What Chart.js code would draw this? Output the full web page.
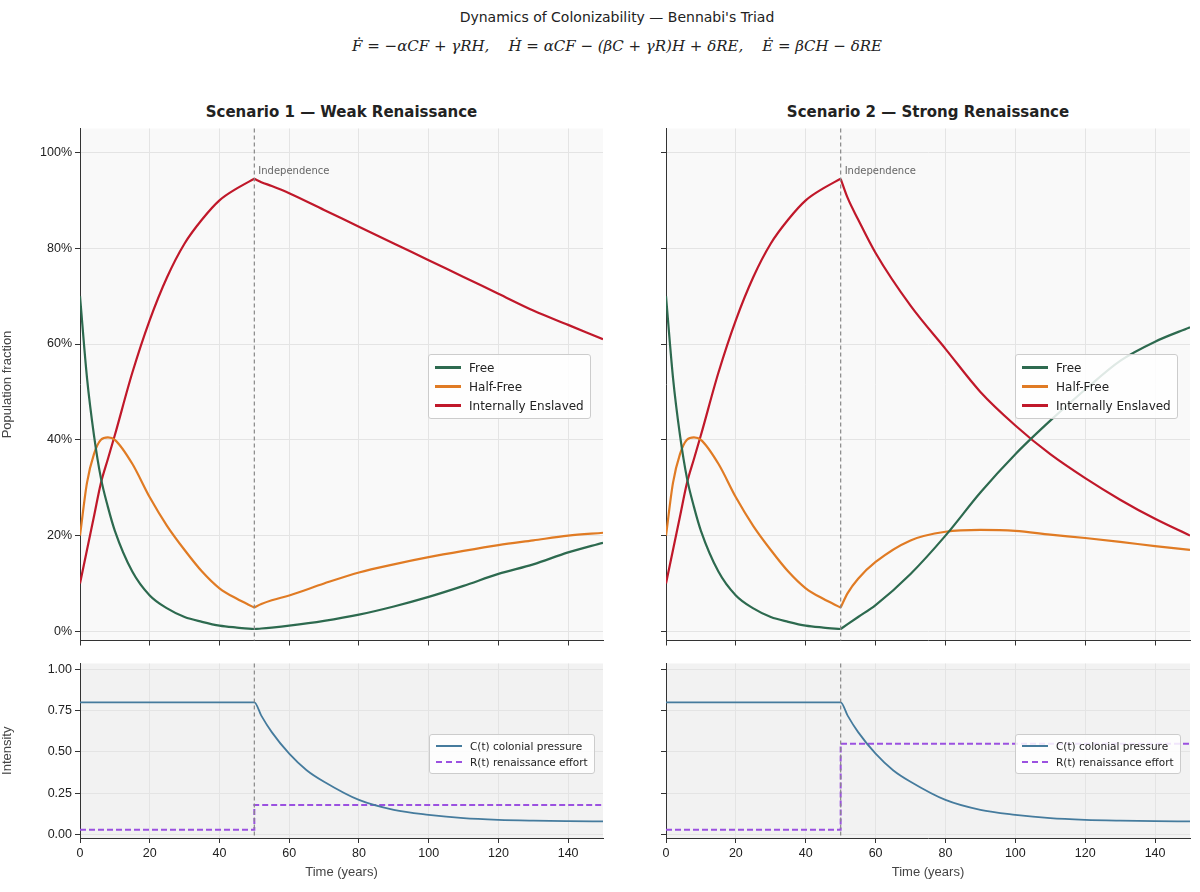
<!DOCTYPE html>
<html>
<head>
<meta charset="utf-8">
<script src="https://cdn.jsdelivr.net/npm/chart.js@4"></script>
<style>
  body { margin: 0; width: 1200px; height: 892px; background: #fff; font-family: "DejaVu Sans", sans-serif; position: relative; overflow: hidden; }
  .box { position: absolute; }
  .txt { position: absolute; white-space: nowrap; color: #222; }
  .legend { position: absolute; background: rgba(255,255,255,0.85); border: 1px solid #ccc; border-radius: 3px; padding: 3px 6px; font-size: 12px; color: #222; }
  .legend div { display: flex; align-items: center; height: 19px; }
  .legend.small { font-size: 10.5px; }
  .legend.small div { height: 16px; }
  .sw { width: 26px; margin-right: 8px; border-top-width: 3px; }
  .math { font-family: "DejaVu Serif", serif; font-style: italic; }
</style>
</head>
<body>
<div class="txt" style="left:0;width:1234px;text-align:center;top:9px;font-size:14px;">Dynamics of Colonizability — Bennabi's Triad</div>
<div class="txt math" style="left:0;width:1234px;text-align:center;top:37px;font-size:15px;">F&#775; = −αCF + γRH, &nbsp;&nbsp; H&#775; = αCF − (βC + γR)H + δRE, &nbsp;&nbsp; E&#775; = βCH − δRE</div>
<div class="txt" style="left:80px;width:523px;text-align:center;top:103px;font-size:15px;font-weight:bold;">Scenario 1 — Weak Renaissance</div>
<div class="txt" style="left:666px;width:524px;text-align:center;top:103px;font-size:15px;font-weight:bold;">Scenario 2 — Strong Renaissance</div>

<div class="box" style="left:0;top:118px;width:610px;height:533px;"><canvas id="top1"></canvas></div>
<div class="box" style="left:610px;top:118px;width:590px;height:533px;"><canvas id="top2"></canvas></div>
<div class="box" style="left:0;top:653px;width:610px;height:239px;"><canvas id="bot1"></canvas></div>
<div class="box" style="left:610px;top:653px;width:590px;height:239px;"><canvas id="bot2"></canvas></div>

<div class="legend" style="left:428px;top:354px;">
  <div><span class="sw" style="border-top:3px solid #2d6a4f"></span>Free</div>
  <div><span class="sw" style="border-top:3px solid #e07b24"></span>Half-Free</div>
  <div><span class="sw" style="border-top:3px solid #c0182a"></span>Internally Enslaved</div>
</div>
<div class="legend" style="left:1015px;top:354px;">
  <div><span class="sw" style="border-top:3px solid #2d6a4f"></span>Free</div>
  <div><span class="sw" style="border-top:3px solid #e07b24"></span>Half-Free</div>
  <div><span class="sw" style="border-top:3px solid #c0182a"></span>Internally Enslaved</div>
</div>
<div class="legend small" style="left:429px;top:734px;">
  <div><span class="sw" style="border-top:2px solid #457b9d"></span>C(t) colonial pressure</div>
  <div><span class="sw" style="border-top:2px dashed #9b51e0"></span>R(t) renaissance effort</div>
</div>
<div class="legend small" style="left:1015px;top:734px;">
  <div><span class="sw" style="border-top:2px solid #457b9d"></span>C(t) colonial pressure</div>
  <div><span class="sw" style="border-top:2px dashed #9b51e0"></span>R(t) renaissance effort</div>
</div>

<script>
// ===== DATA =====
const tPre = [0, 2, 4, 6, 8, 10, 15, 20, 25, 30, 35, 40, 45, 50];
const freePre = [70, 53, 41, 32, 26, 21, 12.5, 7.5, 4.8, 3, 2, 1.2, 0.8, 0.5];
const halfPre = [20, 31, 37, 40, 40.5, 40, 35, 28, 22, 17, 12.5, 9, 6.8, 5];
const enslPre = [10, 17, 24, 31, 36, 41, 54, 65, 74, 81, 86, 90, 92.5, 94.5];

const tPost = [50, 52, 55, 60, 70, 80, 90, 100, 110, 120, 130, 140, 150];
const free1 = [0.5, 0.6, 0.8, 1.2, 2.2, 3.5, 5.2, 7.2, 9.5, 12, 14, 16.5, 18.5];
const half1 = [5, 5.7, 6.5, 7.5, 10, 12.3, 14, 15.5, 16.8, 18, 19, 20, 20.6];
const ensl1 = [94.5, 93.8, 93, 91.5, 88, 84.5, 81, 77.5, 74, 70.5, 67, 64, 61];
const free2 = [0.5, 1.5, 3, 5.5, 12, 20, 29, 37, 44, 50.5, 56.5, 60.5, 63.5];
const half2 = [5, 8, 11, 14.5, 19, 20.8, 21.2, 21, 20.2, 19.5, 18.7, 17.8, 17];
const ensl2 = [94.5, 90.5, 86, 79, 68, 59, 50, 43, 37, 32, 27.5, 23.5, 20];

const tC = [0, 50, 52, 55, 60, 65, 70, 80, 90, 100, 110, 120, 130, 140, 150];
const pressure = [0.8, 0.8, 0.72, 0.62, 0.49, 0.39, 0.32, 0.21, 0.15, 0.12, 0.10, 0.09, 0.085, 0.082, 0.08];
const tR = [0, 50, 50, 150];
const effort1 = [0.03, 0.03, 0.18, 0.18];
const effort2 = [0.03, 0.03, 0.55, 0.55];

const xTicks = [0, 20, 40, 60, 80, 100, 120, 140];
const popTicks = [0, 20, 40, 60, 80, 100];
const intTicks = [0, 0.25, 0.5, 0.75, 1.0];

const GREEN = '#2d6a4f', ORANGE = '#e07b24', RED = '#c0182a', BLUE = '#457b9d', PURPLE = '#9b51e0';

function pts(xs, ys) { return xs.map((x, i) => ({ x: x, y: ys[i] })); }
function line(xs, ys, color, extra) {
    return Object.assign({ data: pts(xs, ys), borderColor: color, borderWidth: 2.2, pointRadius: 0, cubicInterpolationMode: 'monotone', fill: false }, extra || {});
}

// ===== PLUGINS =====
const bgPlugin = {
    id: 'bg',
    beforeDraw(chart, args, opts) {
        const a = chart.chartArea, c = chart.ctx;
        c.save(); c.fillStyle = opts.color; c.fillRect(a.left, a.top, a.right - a.left, a.bottom - a.top); c.restore();
    }
};
const indPlugin = {
    id: 'ind',
    afterDatasetsDraw(chart, args, opts) {
        const a = chart.chartArea, c = chart.ctx, x = chart.scales.x.getPixelForValue(50);
        c.save();
        c.strokeStyle = '#888'; c.lineWidth = 1.2; c.setLineDash([4, 3]);
        c.beginPath(); c.moveTo(x, a.top); c.lineTo(x, a.bottom); c.stroke();
        if (opts.label) {
            c.fillStyle = '#666'; c.font = '10px "DejaVu Sans"'; c.textBaseline = 'top';
            c.fillText('Independence', x + 4, a.top + 38);
        }
        c.restore();
    }
};

function makeChart(id, datasets, o) {
    new Chart(document.getElementById(id), {
        type: 'line',
        data: { datasets: datasets },
        plugins: [bgPlugin, indPlugin],
        options: {
            responsive: true, maintainAspectRatio: false, animation: false,
            layout: { padding: { top: 4, right: o.right, bottom: o.bottom, left: 0 } },
            plugins: { legend: { display: false }, tooltip: { enabled: false }, bg: { color: o.bg }, ind: { label: o.label } },
            scales: {
                x: {
                    type: 'linear', min: 0, max: 150,
                    afterBuildTicks: s => { s.ticks = xTicks.map(v => ({ value: v })); },
                    afterFit: s => { s.height = o.xh; },
                    grid: { color: '#e4e4e4', tickLength: 5, tickColor: '#333' },
                    border: { color: '#333' },
                    ticks: { display: o.xlabels, color: '#222', font: { size: 12.5 } },
                    title: { display: o.xlabels, text: 'Time (years)', color: '#444', font: { size: 13 }, padding: 0 }
                },
                y: {
                    min: o.ymin, max: o.ymax,
                    afterBuildTicks: s => { s.ticks = o.yticks.map(v => ({ value: v })); },
                    afterFit: s => { s.width = o.yw; },
                    grid: { color: '#e4e4e4', tickLength: 5, tickColor: '#333' },
                    border: { color: '#333' },
                    ticks: { color: '#222', font: { size: 12.5 }, callback: o.ylabels ? o.fmt : () => '' },
                    title: { display: !!o.ytitle, text: o.ytitle, color: '#444', font: { size: 13 }, padding: { top: 0, bottom: 0 } }
                }
            }
        }
    });
}

function popSets(f, h, e) {
    return [
        line(tPre, freePre, GREEN), line(tPost, f, GREEN),
        line(tPre, halfPre, ORANGE), line(tPost, h, ORANGE),
        line(tPre, enslPre, RED), line(tPost, e, RED)
    ];
}
function intSets(r) {
    return [
        line(tC, pressure, BLUE, { borderWidth: 1.8 }),
        line(tR, r, PURPLE, { borderWidth: 2, cubicInterpolationMode: 'default', tension: 0, borderDash: [6, 3] })
    ];
}

const pct = v => v + '%';
const dec = v => v.toFixed(2);

makeChart('top1', popSets(free1, half1, ensl1), { right: 7, bottom: 0, xh: 10, xlabels: false, ymin: -1.9, ymax: 105, yticks: popTicks, yw: 80, ylabels: true, fmt: pct, ytitle: 'Population fraction', bg: '#f9f9f9', label: true });
makeChart('top2', popSets(free2, half2, ensl2), { right: 10, bottom: 0, xh: 10, xlabels: false, ymin: -1.9, ymax: 105, yticks: popTicks, yw: 56, ylabels: false, fmt: pct, ytitle: '', bg: '#f9f9f9', label: true });
makeChart('bot1', intSets(effort1), { right: 7, bottom: 12, xh: 42, xlabels: true, ymin: -0.02, ymax: 1.035, yticks: intTicks, yw: 80, ylabels: true, fmt: dec, ytitle: 'Intensity', bg: '#f2f2f2', label: false });
makeChart('bot2', intSets(effort2), { right: 10, bottom: 12, xh: 42, xlabels: true, ymin: -0.02, ymax: 1.035, yticks: intTicks, yw: 56, ylabels: false, fmt: dec, ytitle: '', bg: '#f2f2f2', label: false });
</script>
</body>
</html>
